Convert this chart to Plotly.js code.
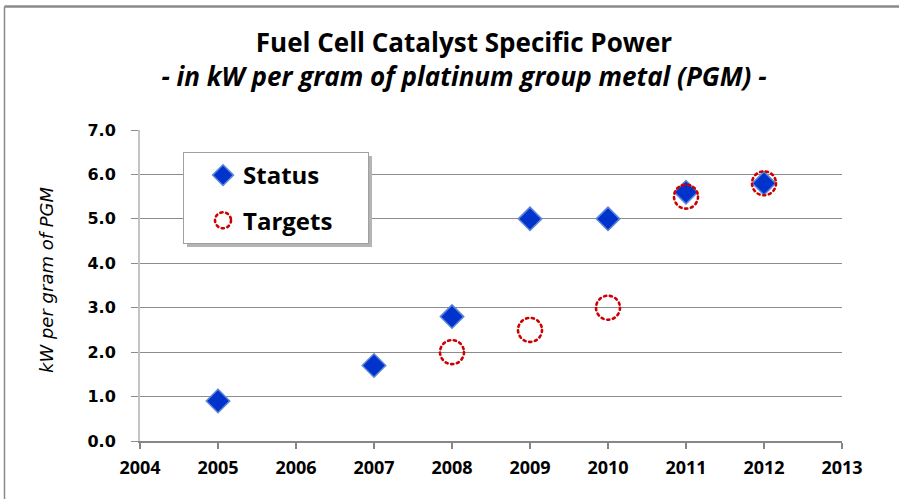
<!DOCTYPE html>
<html>
<head>
<meta charset="utf-8">
<script src="https://cdn.plot.ly/plotly-3.0.1.min.js"></script>
<style>
  html, body { margin: 0; padding: 0; background: #ffffff; }
  #chart { width: 899px; height: 499px; }
</style>
</head>
<body>
<div id="chart"></div>
<script>
// ---- data ----
const statusYears = [2005, 2007, 2008, 2009, 2010, 2011, 2012];
const statusValues = [0.9, 1.7, 2.8, 5.0, 5.0, 5.6, 5.8];
const targetYears = [2008, 2009, 2010, 2011, 2012];
const targetValues = [2.0, 2.5, 3.0, 5.5, 5.8];
const xTickVals = [2004, 2005, 2006, 2007, 2008, 2009, 2010, 2011, 2012, 2013];
const yTickVals = [0, 1, 2, 3, 4, 5, 6, 7];
const seriesNames = ['Status', 'Targets'];
const titleText = 'Fuel Cell Catalyst Specific Power';
const subtitleText = '- in kW per gram of platinum group metal (PGM) -';
const yAxisTitle = 'kW per gram of PGM';

// plot area geometry (pixels) used to place paper-referenced decorations
const L = 140, R = 842, T = 130, B = 441;
const W = R - L, H = B - T;
const px = x => (x - L) / W;
const py = y => (B - y) / H;
const LEGEND_BOX_WIDTH = 185;

const traces = [
  {
    type: 'scatter', mode: 'markers', name: seriesNames[0],
    x: statusYears, y: statusValues, legendgroup: 'a',
    marker: { symbol: 'diamond', size: 18, color: '#0033cc',
              line: { color: '#5d86d8', width: 1.5 } }
  },
  {
    type: 'scatter', mode: 'markers', name: seriesNames[1],
    x: targetYears, y: targetValues, legendgroup: 'b',
    marker: { symbol: 'circle-open', size: 24, color: '#cc0000',
              line: { color: '#cc0000', width: 2.6 } }
  }
];

const layout = {
  width: 899, height: 499,
  paper_bgcolor: '#ffffff', plot_bgcolor: '#ffffff',
  margin: { l: L, r: 899 - R, t: T, b: 499 - B, autoexpand: false },
  showlegend: true,
  title: {
    text: titleText + '<br><i>' + subtitleText + '</i>',
    font: { family: 'Open Sans, sans-serif', size: 26, color: '#000000', weight: 'bold' },
    xref: 'container', yref: 'container',
    x: 464 / 899, xanchor: 'center',
    y: 1 - 52 / 499, yanchor: 'top'
  },
  xaxis: {
    range: [2004, 2013], tickvals: xTickVals, ticktext: xTickVals.map(String),
    showgrid: false, zeroline: false, fixedrange: true,
    showline: true, linecolor: '#868686', linewidth: 1.5,
    ticks: 'outside', ticklen: 6, tickcolor: '#868686', tickwidth: 1.5,
    ticklabelstandoff: 4,
    tickfont: { family: 'Open Sans, sans-serif', size: 18, color: '#000000', weight: 'bold' }
  },
  yaxis: {
    range: [0, 7], tickvals: yTickVals, ticktext: yTickVals.map(v => v.toFixed(1)),
    showgrid: true, gridcolor: '#8c8c8c', gridwidth: 1, zeroline: false, fixedrange: true,
    showline: true, linecolor: '#c4c4c4', linewidth: 2,
    ticks: 'outside', ticklen: 7, tickcolor: '#8c8c8c', tickwidth: 1,
    ticklabelstandoff: 12,
    tickfont: { family: 'DejaVu Sans, sans-serif', size: 16, color: '#000000', weight: 'bold' }
  },
  legend: {
    x: px(183), y: py(152), xanchor: 'left', yanchor: 'top',
    bgcolor: '#ffffff', bordercolor: '#a0a0a0', borderwidth: 1,
    font: { family: 'Open Sans, sans-serif', size: 24, color: '#000000', weight: 'bold' },
    traceorder: 'grouped', tracegroupgap: 11, indentation: 19
  },
  annotations: [
    {
      text: '<i>' + yAxisTitle + '</i>', textangle: -90,
      xref: 'paper', yref: 'paper', x: px(46), y: py(280),
      xanchor: 'center', yanchor: 'middle', showarrow: false,
      font: { family: 'DejaVu Sans, sans-serif', size: 18, color: '#000000' }
    }
  ],
  shapes: [
    // outer frame (top & left)
    { type: 'line', xref: 'paper', yref: 'paper', layer: 'below',
      x0: px(4.5), x1: px(905), y0: py(6.5), y1: py(6.5),
      line: { color: '#8a8a8a', width: 2.5 } },
    { type: 'line', xref: 'paper', yref: 'paper', layer: 'below',
      x0: px(4.5), x1: px(4.5), y0: py(6.5), y1: py(505),
      line: { color: '#8a8a8a', width: 1.5 } }
  ]
};

Plotly.newPlot('chart', traces, layout, { staticPlot: true, displayModeBar: false }).then(gd => {
  const dot = el => {
    el.style.strokeDasharray = '2.2,3.6';
    el.style.strokeLinecap = 'round';
  };
  const tr = gd.querySelectorAll('.scatterlayer .trace');
  if (tr[1]) tr[1].querySelectorAll('path.point').forEach(dot);
  const lg = gd.querySelectorAll('.legend .traces');
  if (lg[1]) lg[1].querySelectorAll('path.scatterpts').forEach(dot);
  // widen legend box and add a soft drop shadow behind it
  const bg = gd.querySelector('.legend rect.bg');
  if (bg) {
    bg.setAttribute('width', LEGEND_BOX_WIDTH);
    const sh = bg.cloneNode(false);
    sh.classList.remove('bg');
    const bx = parseFloat(bg.getAttribute('x') || 0), by = parseFloat(bg.getAttribute('y') || 0);
    sh.setAttribute('x', bx + 3); sh.setAttribute('y', by + 3);
    sh.style.fill = '#b4b4b4'; sh.style.stroke = 'none';
    bg.parentNode.insertBefore(sh, bg);
  }
});
</script>
</body>
</html>
